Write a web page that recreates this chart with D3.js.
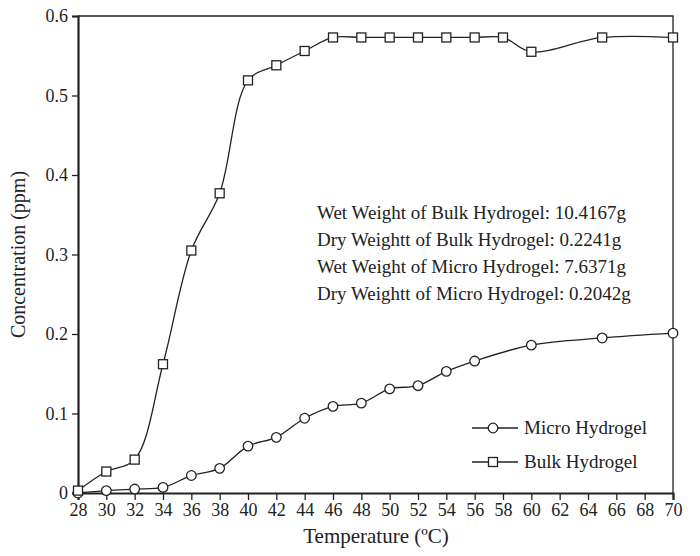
<!DOCTYPE html>
<html>
<head>
<meta charset="utf-8">
<script src="https://cdn.jsdelivr.net/npm/d3@7"></script>
<style>
  body { margin: 0; background: #fff; }
  svg { font-family: "Liberation Serif", "Times New Roman", serif; }
</style>
</head>
<body>
<svg width="700" height="556"></svg>
<script>
// data
var microTemp = [ 28, 30, 32, 34, 36, 38, 40, 42, 44, 46, 48, 50, 52, 54, 56, 60, 65, 70 ];
var microConc = [ 0.000, 0.003, 0.005, 0.007, 0.022, 0.031, 0.059, 0.070, 0.094, 0.109, 0.113, 0.131, 0.135, 0.153, 0.166, 0.186, 0.195, 0.201 ];
var bulkTemp = [ 28, 30, 32, 34, 36, 38, 40, 42, 44, 46, 48, 50, 52, 54, 56, 58, 60, 65, 70 ];
var bulkConc = [ 0.003, 0.027, 0.042, 0.162, 0.305, 0.377, 0.519, 0.538, 0.556, 0.573, 0.573, 0.573, 0.573, 0.573, 0.573, 0.573, 0.555, 0.573, 0.573 ];
var xTicks = d3.range( 28, 71, 2 );
var yTicks = [ 0, 0.1, 0.2, 0.3, 0.4, 0.5, 0.6 ];
var notes = [
  "Wet Weight of Bulk Hydrogel: 10.4167g",
  "Dry Weightt of Bulk Hydrogel: 0.2241g",
  "Wet Weight of Micro Hydrogel: 7.6371g",
  "Dry Weightt of Micro Hydrogel: 0.2042g"
];

var svg = d3.select( "svg" ),
  margin = { top: 16, right: 27, bottom: 63, left: 78 },
  width = 700 - margin.left - margin.right,
  height = 556 - margin.top - margin.bottom;

var x = d3.scaleLinear().domain( [ 28, 70 ] ).range( [ 0, width ] ),
  y = d3.scaleLinear().domain( [ 0, 0.6 ] ).range( [ height, 0 ] );

var g = svg.append( "g" )
  .attr( "transform", "translate(" + margin.left + "," + margin.top + ")" );

// frame (top and right)
g.append( "path" )
  .attr( "d", "M0,0H" + width + "V" + height )
  .attr( "fill", "none" )
  .attr( "stroke", "#222" )
  .attr( "stroke-width", 1.3 );

// x axis
var xAxis = g.append( "g" )
  .attr( "transform", "translate(0," + height + ")" )
  .call( d3.axisBottom( x ).tickValues( xTicks ).tickSize( 7 ).tickPadding( 3 ).tickFormat( d3.format( "d" ) ) );
xAxis.select( ".domain" ).attr( "stroke", "#222" ).attr( "stroke-width", 2.2 );
xAxis.selectAll( ".tick line" ).attr( "stroke", "#222" ).attr( "stroke-width", 1.3 );
xAxis.selectAll( "text" ).attr( "font-size", 18 ).attr( "fill", "#222" )
  .attr( "font-family", "Liberation Serif, serif" );

// y axis
var yAxis = g.append( "g" )
  .call( d3.axisLeft( y ).tickValues( yTicks ).tickSize( 6 ).tickPadding( 4 )
    .tickFormat( function ( d ) { return d === 0 ? "0" : d3.format( ".1f" )( d ); } ) );
yAxis.select( ".domain" ).attr( "stroke", "#222" ).attr( "stroke-width", 2.2 );
yAxis.selectAll( ".tick line" ).attr( "stroke", "#222" ).attr( "stroke-width", 1.3 );
yAxis.selectAll( "text" ).attr( "font-size", 18 ).attr( "fill", "#222" )
  .attr( "font-family", "Liberation Serif, serif" );

// axis titles
svg.append( "text" )
  .attr( "x", 376 )
  .attr( "y", 543 )
  .attr( "text-anchor", "middle" )
  .attr( "font-size", 21 )
  .attr( "fill", "#222" )
  .text( "Temperature (ºC)" );

svg.append( "text" )
  .attr( "transform", "translate(25," + ( margin.top + height / 2 ) + ") rotate(-90)" )
  .attr( "text-anchor", "middle" )
  .attr( "font-size", 20 )
  .attr( "fill", "#222" )
  .text( "Concentration (ppm)" );

// series
var micro = microTemp.map( function ( t, i ) { return { t: t, c: microConc[ i ] }; } );
var bulk = bulkTemp.map( function ( t, i ) { return { t: t, c: bulkConc[ i ] }; } );

var line = d3.line()
  .x( function ( d ) { return x( d.t ); } )
  .y( function ( d ) { return y( d.c ); } )
  .curve( d3.curveCatmullRom.alpha( 0.5 ) );

g.append( "path" ).datum( micro )
  .attr( "d", line ).attr( "fill", "none" )
  .attr( "stroke", "#222" ).attr( "stroke-width", 1.3 );
g.append( "path" ).datum( bulk )
  .attr( "d", line ).attr( "fill", "none" )
  .attr( "stroke", "#222" ).attr( "stroke-width", 1.3 );

g.selectAll( ".circ" ).data( micro )
  .enter().append( "circle" )
  .attr( "class", "circ" )
  .attr( "cx", function ( d ) { return x( d.t ); } )
  .attr( "cy", function ( d ) { return y( d.c ); } )
  .attr( "r", 4.8 )
  .attr( "fill", "#fff" ).attr( "stroke", "#222" ).attr( "stroke-width", 1.3 );

g.selectAll( ".sq" ).data( bulk )
  .enter().append( "rect" )
  .attr( "class", "sq" )
  .attr( "x", function ( d ) { return x( d.t ) - 4.5; } )
  .attr( "y", function ( d ) { return y( d.c ) - 4.5; } )
  .attr( "width", 9 ).attr( "height", 9 )
  .attr( "fill", "#fff" ).attr( "stroke", "#222" ).attr( "stroke-width", 1.3 );

// annotation
svg.append( "g" ).selectAll( "text" ).data( notes )
  .enter().append( "text" )
  .attr( "x", 317 )
  .attr( "y", function ( d, i ) { return 219 + i * 27; } )
  .attr( "font-size", 19 )
  .attr( "fill", "#222" )
  .text( function ( d ) { return d; } );

// legend
var legend = svg.append( "g" );
[ "Micro Hydrogel", "Bulk Hydrogel" ].forEach( function ( name, i ) {
  var ly = 428 + i * 34;
  legend.append( "line" )
    .attr( "x1", 472 ).attr( "x2", 518 ).attr( "y1", ly ).attr( "y2", ly )
    .attr( "stroke", "#222" ).attr( "stroke-width", 1.3 );
  if ( i === 0 ) {
    legend.append( "circle" ).attr( "cx", 493 ).attr( "cy", ly ).attr( "r", 4.8 )
      .attr( "fill", "#fff" ).attr( "stroke", "#222" ).attr( "stroke-width", 1.3 );
  } else {
    legend.append( "rect" ).attr( "x", 488.5 ).attr( "y", ly - 4.5 ).attr( "width", 9 ).attr( "height", 9 )
      .attr( "fill", "#fff" ).attr( "stroke", "#222" ).attr( "stroke-width", 1.3 );
  }
  legend.append( "text" )
    .attr( "x", 524 ).attr( "y", ly + 6 )
    .attr( "font-size", 19 )
    .attr( "fill", "#222" )
    .text( name );
} );
</script>
</body>
</html>
